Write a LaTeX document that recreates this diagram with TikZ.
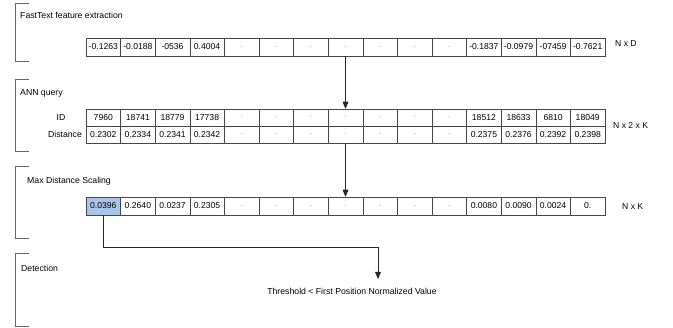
\documentclass[tikz,border=0pt]{standalone}
\usepackage{fontspec}
\setmainfont{Liberation Sans}
\usepackage{tikz}
\usetikzlibrary{positioning}
\usetikzlibrary{arrows,shapes}
\usetikzlibrary{calc}
\definecolor{hilite}{RGB}{169,196,235}
\definecolor{linegray}{RGB}{70,70,70}
\tikzstyle{cell}=[rectangle,draw=linegray,fill=white,minimum width=34.6pt,minimum height=18pt,inner sep=0pt,font=\fontsize{8.6}{9}\selectfont]
\tikzstyle{halfcell}=[cell,minimum height=17pt]
\tikzstyle{stage}=[anchor=west,inner sep=0pt,font=\fontsize{8.7}{10}\selectfont]
\tikzstyle{dims}=[anchor=west,inner sep=0pt,font=\fontsize{8.6}{10}\selectfont]
\tikzstyle{bracket}=[draw=black!60,line width=1pt]
\tikzstyle{flow}=[-triangle 45,draw=black!85,semithick]
\newcommand{\dotcell}{\textcolor{black!45}{.}}

\begin{document}
\begin{tikzpicture}[x=1pt,y=-1pt]
\useasboundingbox (0,0) rectangle (673,328);

%brackets
    \foreach \top/\bot in {4/62, 80/152, 167/239, 254/327}
        \draw[bracket] (29,\top) -- (15,\top) -- (15,\bot) -- (29,\bot);

    \node[stage] (lblfeat) at (20,15) {FastText feature extraction};
    \node[stage] (lblann) at (20,93) {ANN query};
    \node[stage] (lblscale) at (27,181) {Max Distance Scaling};
    \node[stage] (lbldet) at (21,268) {Detection};

%feature vector
    \def\cw{34.6};

    \foreach \val [count=\i] in {-0.1263,-0.0188,-0536,0.4004,\dotcell,\dotcell,\dotcell,\dotcell,\dotcell,\dotcell,\dotcell,-0.1837,-0.0979,-07459,-0.7621}
        \node[cell] (f\i) at ({86+\cw*(\i-0.5)},47) {\val};
\node[dims] (dimf) at (615,44) {N x D};

%ANN query
    \foreach \val [count=\i] in {7960,18741,18779,17738,\dotcell,\dotcell,\dotcell,\dotcell,\dotcell,\dotcell,\dotcell,18512,18633,6810,18049}
        \node[halfcell] (a\i) at ({86+\cw*(\i-0.5)},117.5) {\val};
    \foreach \val [count=\i] in {0.2302,0.2334,0.2341,0.2342,\dotcell,\dotcell,\dotcell,\dotcell,\dotcell,\dotcell,\dotcell,0.2375,0.2376,0.2392,0.2398}
        \node[halfcell] (d\i) at ({86+\cw*(\i-0.5)},134.5) {\val};
\node[stage, anchor=center] (idlab) at (61,118) {ID};
\node[stage, anchor=center] (distlab) at (65,134) {Distance};
\node[dims] (dima) at (613,126) {N x 2 x K};

%scaling
    \foreach \val [count=\i] in {0.0396,0.2640,0.0237,0.2305,\dotcell,\dotcell,\dotcell,\dotcell,\dotcell,\dotcell,\dotcell,0.0080,0.0090,0.0024,0.}
        \node[cell] (s\i) at ({86+\cw*(\i-0.5)},206) {\val};
\node[cell, fill=hilite] (s1) at ({86+\cw*0.5},206) {0.0396};
\node[dims] (dims) at (622,207) {N x K};

%detection
\node[stage, anchor=center] (thr) at (352,291) {Threshold < First Position Normalized Value};
\coordinate (turn) at (378,247);
\coordinate (tip) at (378,279);

  \draw[flow] (f8.south) -- (a8.north);
  \draw[flow] (d8.south) -- (s8.north);
  \draw[flow] (s1.south) |- (turn) -- (tip);

   \end{tikzpicture}
\end{document}
